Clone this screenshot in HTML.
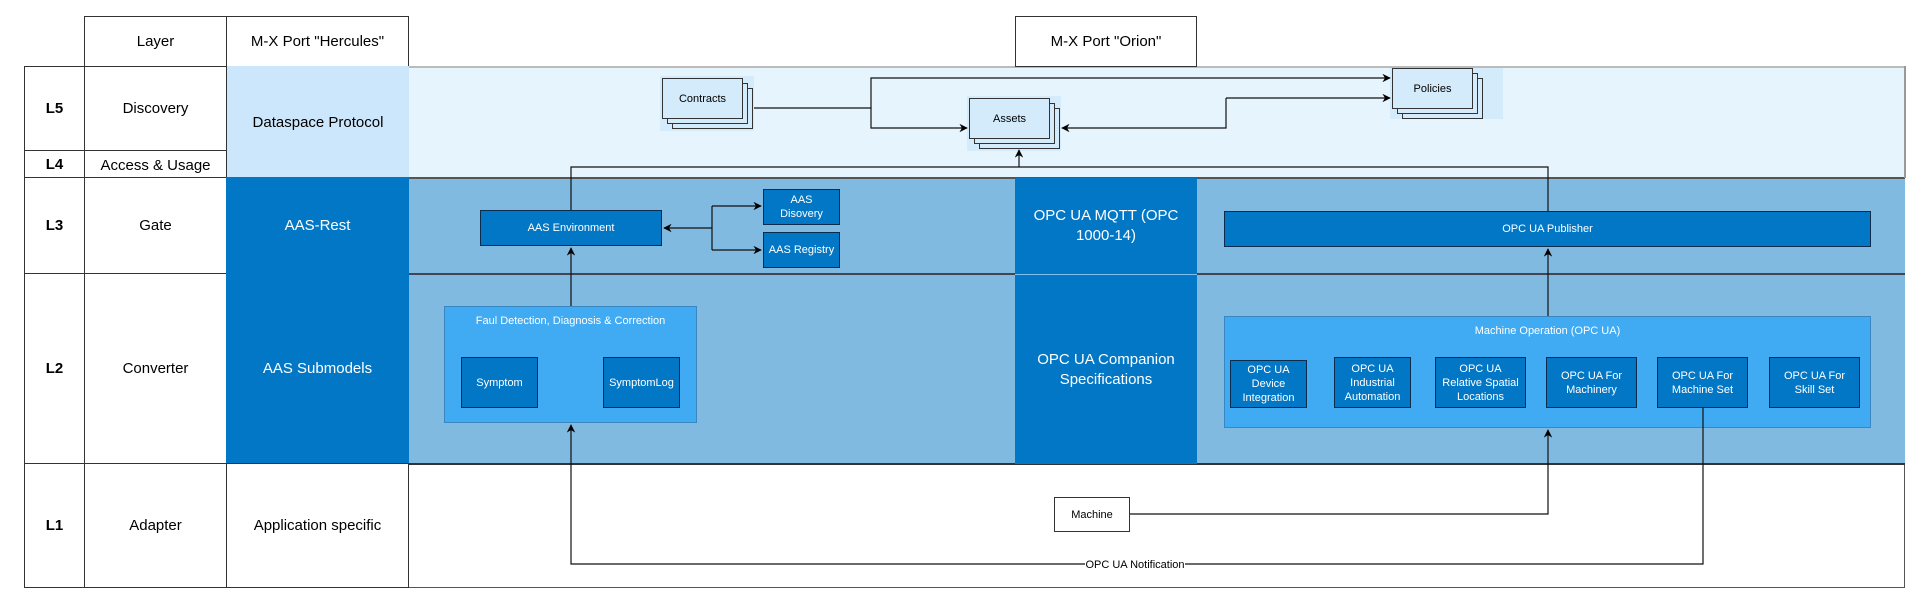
<!DOCTYPE html>
<html><head><meta charset="utf-8"><style>
*{margin:0;padding:0;box-sizing:border-box}
body{width:1920px;height:604px;background:#fff;position:relative;overflow:hidden;font-family:"Liberation Sans",Arial,sans-serif}
.b{position:absolute;display:flex;align-items:center;justify-content:center;text-align:center;color:#000}
.t{border:1px solid #333}
.w{color:#fff}
.ib{background:#0277c6;border:1.5px solid #0b2c4a;color:#fff;font-size:11px;line-height:14px}
.st{position:absolute;background:#d4ebfb;border:1.5px solid #333}
</style></head><body>
<div class="b" style="left:409px;top:66px;width:1496px;height:112px;background:#e6f4fd;border-top:2px solid #bbb"></div>
<div class="b" style="left:409px;top:178px;width:1496px;height:286px;background:#80bae0"></div>
<div class="b" style="left:409px;top:464px;width:1496px;height:124px;background:#fff;border-right:1.5px solid #555;border-bottom:1.5px solid #555"></div>
<div style="position:absolute;left:409px;top:177px;width:1496px;height:1.5px;background:#555"></div>
<div style="position:absolute;left:409px;top:273px;width:1496px;height:1.5px;background:#445"></div>
<div style="position:absolute;left:409px;top:463px;width:1496px;height:1.5px;background:#333"></div>
<div style="position:absolute;left:1904px;top:66px;width:1.5px;height:112px;background:#999"></div>

<div class="b t" style="left:84px;top:16px;width:143px;height:51px;font-size:15px">Layer</div>
<div class="b t" style="left:226px;top:16px;width:183px;height:51px;font-size:15px">M-X Port "Hercules"</div>
<div class="b t" style="left:1015px;top:16px;width:182px;height:51px;font-size:15px">M-X Port "Orion"</div>

<div class="b t" style="left:24px;top:66px;width:61px;height:85px;font-size:15px;font-weight:bold">L5</div>
<div class="b t" style="left:24px;top:150px;width:61px;height:28px;font-size:15px;font-weight:bold">L4</div>
<div class="b t" style="left:24px;top:177px;width:61px;height:97px;font-size:15px;font-weight:bold">L3</div>
<div class="b t" style="left:24px;top:273px;width:61px;height:191px;font-size:15px;font-weight:bold">L2</div>
<div class="b t" style="left:24px;top:463px;width:61px;height:125px;font-size:15px;font-weight:bold">L1</div>
<div class="b t" style="left:84px;top:66px;width:143px;height:85px;font-size:15px">Discovery</div>
<div class="b t" style="left:84px;top:150px;width:143px;height:28px;font-size:15px;overflow:hidden;align-items:flex-start;padding-top:5px;line-height:19px">Access &amp; Usage<br>Control</div>
<div class="b t" style="left:84px;top:177px;width:143px;height:97px;font-size:15px">Gate</div>
<div class="b t" style="left:84px;top:273px;width:143px;height:191px;font-size:15px">Converter</div>
<div class="b t" style="left:84px;top:463px;width:143px;height:125px;font-size:15px">Adapter</div>
<div class="b" style="left:226px;top:66px;width:183px;height:112px;background:#cce7fb;border-left:1px solid #333;font-size:15px">Dataspace Protocol</div>
<div class="b w" style="left:226px;top:177px;width:183px;height:97px;background:#0277c6;font-size:15px">AAS-Rest</div>
<div class="b w" style="left:226px;top:273px;width:183px;height:191px;background:#0277c6;font-size:15px">AAS Submodels</div>
<div class="b t" style="left:226px;top:463px;width:183px;height:125px;font-size:15px">Application specific</div>

<div class="b w" style="left:1015px;top:178px;width:182px;height:96px;background:#0277c6;font-size:15px;line-height:20px">OPC UA MQTT (OPC<br>1000-14)</div>
<div class="b w" style="left:1015px;top:274px;width:182px;height:190px;background:#0277c6;border-top:1px solid #7fc0ee;font-size:15px;line-height:20px">OPC UA Companion<br>Specifications</div>

<div style="position:absolute;left:660px;top:76px;width:94px;height:55px;background:#d4ebfb"></div>
<div class="st" style="left:672px;top:88px;width:81px;height:41px"></div>
<div class="st" style="left:667px;top:83px;width:81px;height:41px"></div>
<div class="st b" style="left:662px;top:78px;width:81px;height:41px;font-size:11px">Contracts</div>
<div style="position:absolute;left:967px;top:96px;width:94px;height:55px;background:#d4ebfb"></div>
<div class="st" style="left:979px;top:108px;width:81px;height:41px"></div>
<div class="st" style="left:974px;top:103px;width:81px;height:41px"></div>
<div class="st b" style="left:969px;top:98px;width:81px;height:41px;font-size:11px">Assets</div>
<div style="position:absolute;left:1390px;top:68px;width:113px;height:51px;background:#d4ebfb"></div>
<div class="st" style="left:1402px;top:78px;width:81px;height:41px"></div>
<div class="st" style="left:1397px;top:73px;width:81px;height:41px"></div>
<div class="st b" style="left:1392px;top:68px;width:81px;height:41px;font-size:11px">Policies</div>

<div class="b ib" style="left:480px;top:210px;width:182px;height:36px">AAS Environment</div>
<div class="b ib" style="left:763px;top:189px;width:77px;height:36px">AAS<br>Disovery</div>
<div class="b ib" style="left:763px;top:232px;width:77px;height:36px">AAS Registry</div>
<div class="b ib" style="left:1224px;top:211px;width:647px;height:36px">OPC UA Publisher</div>

<div class="b" style="left:444px;top:306px;width:253px;height:117px;background:#40aaf2;border:1.5px solid #3a86c0;align-items:flex-start;padding-top:8px;color:#fff;font-size:11px">Faul Detection, Diagnosis &amp; Correction</div>
<div class="b ib" style="left:461px;top:357px;width:77px;height:51px">Symptom</div>
<div class="b ib" style="left:603px;top:357px;width:77px;height:51px">SymptomLog</div>
<div class="b" style="left:1224px;top:316px;width:647px;height:112px;background:#40aaf2;border:1.5px solid #3a86c0;align-items:flex-start;padding-top:8px;color:#fff;font-size:11px">Machine Operation (OPC UA)</div>
<div class="b ib" style="left:1230px;top:360px;width:77px;height:48px">OPC UA<br>Device<br>Integration</div>
<div class="b ib" style="left:1334px;top:357px;width:77px;height:51px">OPC UA<br>Industrial<br>Automation</div>
<div class="b ib" style="left:1435px;top:357px;width:91px;height:51px">OPC UA<br>Relative Spatial<br>Locations</div>
<div class="b ib" style="left:1546px;top:357px;width:91px;height:51px">OPC UA For<br>Machinery</div>
<div class="b ib" style="left:1657px;top:357px;width:91px;height:51px">OPC UA For<br>Machine Set</div>
<div class="b ib" style="left:1769px;top:357px;width:91px;height:51px">OPC UA For<br>Skill Set</div>

<div class="b" style="left:1054px;top:497px;width:76px;height:35px;background:#fff;border:1.5px solid #333;font-size:11px">Machine</div>

<svg style="position:absolute;left:0;top:0" width="1920" height="604">
<defs><marker id="a" viewBox="0 0 10 10" refX="9" refY="5" markerWidth="7" markerHeight="7" orient="auto"><path d="M0,0L10,5L0,10L3,5z" fill="#000"/></marker></defs>
<g fill="none" stroke="#111" stroke-width="1.2">
<path d="M754,108H871V78H1390" marker-end="url(#a)"/>
<path d="M871,108V128H967" marker-end="url(#a)"/>
<path d="M1226,98H1390" marker-end="url(#a)"/>
<path d="M1226,98V128H1062" marker-end="url(#a)"/>
<path d="M571,210V167H1548V211"/>
<path d="M1019,167V150" marker-end="url(#a)"/>
<path d="M712,228H664" marker-end="url(#a)"/>
<path d="M712,206V250"/>
<path d="M712,206H761" marker-end="url(#a)"/>
<path d="M712,250H761" marker-end="url(#a)"/>
<path d="M571,306V248" marker-end="url(#a)"/>
<path d="M1548,316V249" marker-end="url(#a)"/>
<path d="M1130,514H1548V430" marker-end="url(#a)"/>
<path d="M1703,408V564H571V425" marker-end="url(#a)"/>
</g>
<rect x="1085" y="557" width="100" height="14" fill="#fff"/>
<text x="1135" y="568" font-size="11" text-anchor="middle" font-family="Liberation Sans,sans-serif">OPC UA Notification</text>
</svg>
</body></html>
